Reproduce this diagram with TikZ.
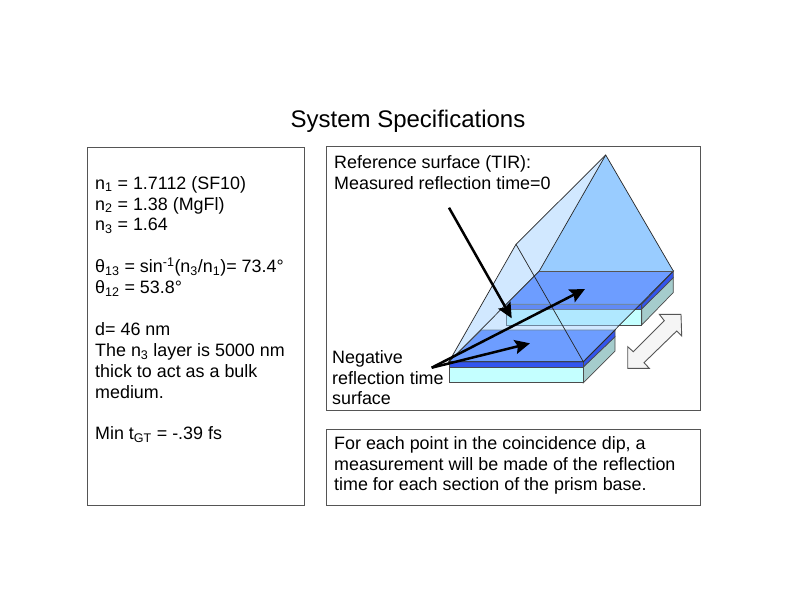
\documentclass[tikz,border=0pt]{standalone}
\usepackage{fontspec}
\setmainfont{Liberation Sans}
\usetikzlibrary{arrows.meta,positioning}
\definecolor{frame}{HTML}{555555}
\definecolor{slabcyan}{HTML}{C4FFFF}
\definecolor{slabteal}{HTML}{A5CCCC}
\definecolor{slabband}{HTML}{3355EE}
\definecolor{slabtop}{HTML}{4A78FF}
\definecolor{prismblue}{HTML}{99CCFF}
\newcommand{\lows}[1]{\textsubscript{#1}}
\tikzset{
  panelbox/.style={
    rectangle, draw=frame, fill=white, line width=0.9pt, inner sep=0pt,
    anchor=north west, minimum width=#1
  },
  paneltext/.style={
    font=\fontsize{17.9}{20.9}\selectfont, align=left, inner sep=0pt,
    anchor=north west
  },
  slabface/.style={draw=black!70, line width=0.7pt, fill=#1},
  prismedge/.style={draw=black!85, line width=0.7pt},
  prismveil/.style={fill=prismblue, fill opacity=0.45},
  blackarrow/.style={
    -{Stealth[length=15pt, width=14pt, inset=2.5pt]}, line width=2.5pt, color=black
  },
  shiftarrow/.style={draw=frame, line width=0.9pt, fill=black!4},
}
\begin{document}
\begin{tikzpicture}[x=1pt, y=-1pt]
  \useasboundingbox (0,0) rectangle (792,612);
  \fill[white] (0,0) rectangle (792,612);

  \node[font=\fontsize{24}{28}\selectfont, inner sep=0pt] (title) at (408,121) {System Specifications};

  \node[panelbox=217pt, minimum height=358pt] (specs) at (87,147) {};
  \node[panelbox=374pt, minimum height=264pt] (scheme) at (326,146) {};
  \node[panelbox=374pt, minimum height=76pt] (note) at (326,429) {};

  \node[paneltext, below right=29pt and 8pt of specs.north west] (spectext) {%
    n\lows{1} = 1.7112 (SF10)\\
    n\lows{2} = 1.38 (MgFl)\\
    n\lows{3} = 1.64\\[20.9pt]
    θ\lows{13} = sin\textsuperscript{-1}(n\lows{3}/n\lows{1})= 73.4°\\
    θ\lows{12} = 53.8°\\[20.9pt]
    d= 46 nm\\
    The n\lows{3} layer is 5000 nm\\
    thick to act as a bulk\\
    medium.\\[20.9pt]
    Min t\lows{GT} = -.39 fs};
  \node[paneltext, below right=9.5pt and 8pt of scheme.north west] (reftext) {%
    Reference surface (TIR):\\
    Measured reflection time=0};
  \node[paneltext, below right=204pt and 6pt of scheme.north west] (negtext) {%
    Negative\\
    reflection time\\
    surface};
  \node[paneltext, below right=7pt and 8pt of note.north west] (notetext) {%
    For each point in the coincidence dip, a\\
    measurement will be made of the reflection\\
    time for each section of the prism base.};

  % prism corners
  \coordinate (frontL) at (449,361.7);
  \coordinate (frontR) at (583.3,361.7);
  \coordinate (backL) at (539.3,271);
  \coordinate (backR) at (673.3,271);
  \coordinate (apexF) at (516,244.3);
  \coordinate (apexB) at (605.7,155);

  % back slab
  \draw[slabface=slabteal] (641.7,309) -- (673.3,277.5) -- (673.3,292.5) -- (641.7,325) -- cycle;
  \draw[slabface=slabband] (641.7,304.3) -- (673.3,271) -- (673.3,277.5) -- (641.7,309) -- cycle;
  \draw[slabface=slabcyan] (506.7,309) rectangle (641.7,325);
  \draw[slabface=slabband] (506.7,304.3) rectangle (641.7,309);
  \draw[slabface=slabtop] (backL) -- (backR) -- (641.7,304.3) -- (506.7,304.3) -- cycle;

  % front slab
  \draw[slabface=slabteal] (583.3,367) -- (615,336.7) -- (615,351) -- (583.3,382.7) -- cycle;
  \draw[slabface=slabband] (frontR) -- (615,330) -- (615,336.7) -- (583.3,367) -- cycle;
  \draw[slabface=slabcyan] (449,367) rectangle (583.3,382.7);
  \draw[slabface=slabband] (frontL) rectangle (583.3,367);
  \draw[slabface=slabtop] (frontL) -- (frontR) -- (615,330) -- (481.7,330) -- cycle;

  % prism faces
  \fill[prismveil] (frontL) -- (frontR) -- (backR) -- (backL) -- cycle;
  \fill[prismveil] (frontL) -- (apexF) -- (apexB) -- (backL) -- cycle;
  \fill[prismblue] (backL) -- (backR) -- (apexB) -- cycle;
  \draw[prismedge] (frontL) -- (apexF) -- (frontR) -- (backR) -- (apexB) -- (apexF);
  \draw[prismedge] (apexB) -- (backL) -- (frontL) -- (frontR);
  \draw[frame, line width=0.9pt] (backL) -- (backR);

  % arrows
  \coordinate (negstart) at (431.7,367.7);
  \coordinate (negnear) at (530,343.3);
  \coordinate (negfar) at (585,289);
  \coordinate (refstart) at (449,207.7);
  \coordinate (reftip) at (511.7,318.3);
  \draw[blackarrow] (negstart) -- (negnear);
  \draw[blackarrow] (negstart) -- (negfar);
  \draw[blackarrow] (refstart) -- (reftip);

  % slide arrow
  \draw[shiftarrow] (681,314.3) -- (681.7,336) -- (676.7,331) -- (644,362.7) -- (649.3,368.3)
    -- (627.7,368.3) -- (627.7,346.7) -- (633.3,351.7) -- (664.3,320.7) -- (659.3,314.3) -- cycle;
\end{tikzpicture}
\end{document}
